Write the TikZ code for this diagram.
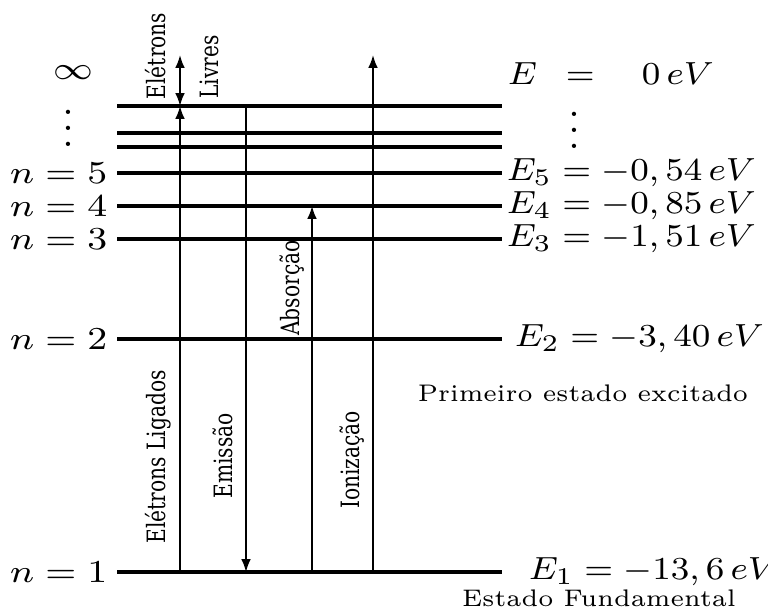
\documentclass[tikz,border=0pt]{standalone}
\usepackage{fontspec}
\newfontfamily\serifdv{DejaVu Serif}
\usetikzlibrary{arrows.meta}
\newcommand\widen[1]{\scalebox{1.17}[1]{#1}}
\newcommand\widenE[1]{\scalebox{1.09}[1]{#1}}
\newcommand\widenT[1]{\scalebox{1.03}[1]{#1}}
\newcommand\thick[1]{\scalebox{1}[1.25]{#1}}
\newcommand\mathsz{\fontsize{8.5}{10}\selectfont}
\newcommand\smallsz{\fontsize{6}{7}\selectfont}

\begin{document}
\begin{tikzpicture}[
  x=0.25pt, y=-0.25pt,
  level/.style={line width=0.8pt},
  trans/.style={line width=0.45pt},
  arr/.style={trans, -{Latex[length=3.2pt, width=2.4pt]}},
  darr/.style={trans, {Latex[length=3.2pt, width=2.4pt]}-{Latex[length=3.2pt, width=2.4pt]}},
  nlbl/.style={anchor=east, inner sep=1pt, font=\mathsz},
  elbl/.style={anchor=west, inner sep=1pt, font=\mathsz},
  dots/.style={inner sep=0pt, font=\fontsize{11}{13}\selectfont},
  note/.style={inner sep=0pt, font=\smallsz},
  vlbl/.style={rotate=90, inner sep=0pt, font=\serifdv\fontsize{5.05}{6}\selectfont}
]
\useasboundingbox (0,0) rectangle (768,612);
% --- energy levels ---
\foreach \nm/\yy in {l1/572, l2/339, l3/239, l4/206, l5/173, l8/147, l7/133, l6/106} {
  \coordinate (\nm a) at (117,\yy);
  \coordinate (\nm b) at (502,\yy);
  \draw[level] (\nm a) -- (\nm b);
}
% x positions of the transitions
\coordinate (xlig) at (180,0);
\coordinate (xemi) at (246,0);
\coordinate (xabs) at (312,0);
\coordinate (xion) at (373,0);
\coordinate (livtop) at (180,55);
\coordinate (iontop) at (373,55);

% --- left labels ---
\node[font=\mathsz] (inf) at (73,73) {\widen{$\infty$}};
\node[dots] (ldots) at (68,116) {$\vdots$};
\node[nlbl] (n5) at (112,173) {\widen{$n=5$}};
\node[nlbl] (n4) at (112,206) {\widen{$n=4$}};
\node[nlbl] (n3) at (112,239) {\widen{$n=3$}};
\node[nlbl] (n2) at (112,339) {\widen{$n=2$}};
\node[nlbl] (n1) at (112,572) {\widen{$n=1$}};

% --- right labels ---
\node[elbl] (e0) at (503,74) {\widenE{$E\enspace=\quad 0\,eV$}};
\node[dots] (rdots) at (574,118) {$\vdots$};
\node[elbl] (e5) at (502,173) {\widenE{$E_5=-0,54\,eV$}};
\node[elbl] (e4) at (502,206) {\widenE{$E_4=-0,85\,eV$}};
\node[elbl] (e3) at (502,239) {\widenE{$E_3=-1,51\,eV$}};
\node[elbl] (e2) at (510,339) {\widenE{$E_2=-3,40\,eV$}};
\node[elbl] (e1) at (524,572) {\widenE{$E_1=-13,6\,eV$}};
\node[note] (exc) at (583,393) {\widenT{Primeiro estado excitado}};
\node[note] (fund) at (599,598) {\widenT{Estado Fundamental}};

% --- transitions ---
\draw[arr] (l1a -| xlig) -- (l6a -| xlig);
\draw[darr] (l6a -| xlig) -- (livtop);
\draw[arr] (l6a -| xemi) -- (l1a -| xemi);
\draw[arr] (l1a -| xabs) -- (l4a -| xabs);
\draw[arr] (l1a -| xion) -- (iontop);

% --- rotated labels ---
\node[vlbl] (eletrons) at (156,56) {\thick{Elétrons}};
\node[vlbl] (livres) at (209,67) {\thick{Livres}};
\node[vlbl] (ligados) at (158,457) {\thick{Elétrons Ligados}};
\node[vlbl] (emissao) at (223,456) {\thick{Emissão}};
\node[vlbl] (absorcao) at (292,288) {\thick{Absorção}};
\node[vlbl] (ionizacao) at (352,460) {\thick{Ionização}};
\end{tikzpicture}
\end{document}
